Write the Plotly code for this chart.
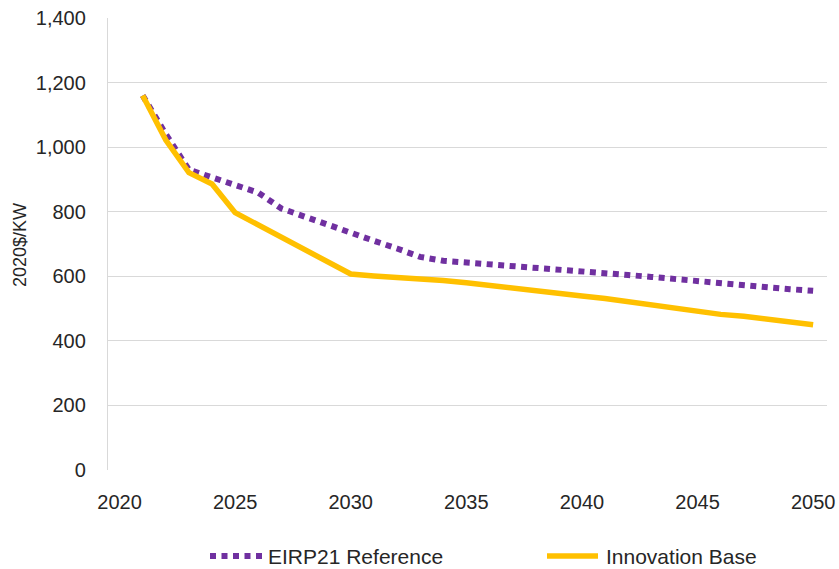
import plotly.graph_objects as go

years = list(range(2021, 2051))
eirp21_reference = [1160, 1040, 930, 906, 883, 859, 810, 784, 761, 733,
                    710, 686, 660, 648, 643, 637, 630, 625, 619, 616,
                    609, 604, 598, 591, 584, 578, 572, 566, 560, 555]
innovation_base = [1160, 1022, 921, 886, 797, 759, 721, 682, 643, 607,
                   601, 597, 592, 587, 580, 571, 563, 555, 548, 539,
                   531, 521, 511, 500, 490, 482, 476, 467, 457, 450]
series_names = ["EIRP21 Reference", "Innovation Base"]
x_ticks = [2020, 2025, 2030, 2035, 2040, 2045, 2050]
y_ticks = [0, 200, 400, 600, 800, 1000, 1200, 1400]
y_labels = ["0", "200", "400", "600", "800", "1,000", "1,200", "1,400"]

FONT = "Liberation Sans"
PURPLE = "#7030A0"
YELLOW = "#FFC000"
PURPLE_DASH = "6px,5.5px"

fig = go.Figure()
fig.add_trace(go.Scatter(x=years, y=eirp21_reference, mode="lines", name=series_names[0],
                         line=dict(color=PURPLE, width=6, dash=PURPLE_DASH)))
fig.add_trace(go.Scatter(x=years, y=innovation_base, mode="lines", name=series_names[1],
                         line=dict(color=YELLOW, width=5.5)))

# plot area: left 108px, right 827px, top 18px, bottom 470px
PL, PR, PT, PB = 108, 827, 18, 470
def px_x(px):
    return (px - PL) / (PR - PL)
def px_y(py):
    return (PB - py) / (PB - PT)

legend_y = px_y(556)
shapes = [
    dict(type="line", xref="paper", yref="paper", x0=px_x(210), x1=px_x(263),
         y0=legend_y, y1=legend_y, line=dict(color=PURPLE, width=6, dash=PURPLE_DASH)),
    dict(type="line", xref="paper", yref="paper", x0=px_x(547), x1=px_x(598),
         y0=legend_y, y1=legend_y, line=dict(color=YELLOW, width=5.5)),
]
annotations = [
    dict(xref="paper", yref="paper", x=px_x(266), y=legend_y, xanchor="left", yanchor="middle",
         text=series_names[0], showarrow=False, font=dict(size=21, color="#262626")),
    dict(xref="paper", yref="paper", x=px_x(604), y=legend_y, xanchor="left", yanchor="middle",
         text=series_names[1], showarrow=False, font=dict(size=21, color="#262626")),
    dict(xref="paper", yref="paper", x=px_x(20), y=px_y(245), xanchor="center", yanchor="middle",
         text="2020$/KW", textangle=-90, showarrow=False, font=dict(size=18, color="#262626")),
]

fig.update_layout(
    width=839, height=569,
    margin=dict(l=PL, r=839 - PR, t=PT, b=569 - PB, autoexpand=False),
    paper_bgcolor="white", plot_bgcolor="white",
    font=dict(family=FONT, size=19, color="#262626"),
    showlegend=False,
    shapes=shapes, annotations=annotations,
    xaxis=dict(range=[2019.5, 2050.6], tickvals=x_ticks, ticktext=[str(v) for v in x_ticks],
               showgrid=False, zeroline=False, showline=False, ticks="", automargin=False,
               tickfont=dict(size=20), ticklabelstandoff=18),
    yaxis=dict(range=[0, 1400], tickvals=y_ticks, ticktext=y_labels, automargin=False,
               showgrid=True, gridcolor="#D9D9D9", gridwidth=1.3, zeroline=False,
               showline=True, linecolor="#D9D9D9", linewidth=1.3, ticks="",
               tickfont=dict(size=20), ticklabelstandoff=17),
)
fig.write_html("out.html", config={"displayModeBar": False},
               post_script="document.body.style.margin='0';document.body.style.overflow='hidden';")
